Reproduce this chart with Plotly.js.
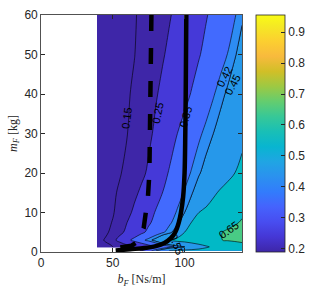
<!DOCTYPE html>
<html><head><meta charset="utf-8">
<script src="https://cdn.plot.ly/plotly-3.0.1.min.js"></script>
<style>html,body{margin:0;padding:0;background:#fff}#chart{width:309px;height:291px}</style>
</head><body><div id="chart"></div>
<script>
// damping b_F [Ns/m] (columns) and mass m_F [kg] (rows)
const bGrid = [39,45,50,55,60,65,70,75,80,85,90,95,100,105,110,115,120,125,130,135,140];
const mGrid = [0.3,1.3,3,5,7.5,10,15,20,30,40,50,60];
const zRow_m0_3 = [null,null,null,null,null,null,0.35,0.40,0.45,0.50,0.56,0.57,0.575,0.58,0.585,0.59,0.60,0.61,0.62,0.625,0.63];
const zRow_m1_3 = [0.08,0.115,0.15,0.183,0.217,0.25,0.283,0.317,0.35,0.379,0.408,0.431,0.45,0.479,0.509,0.538,0.565,0.58,0.595,0.61,0.625];
const zRow_m3   = [0.10,0.163,0.225,0.28,0.33,0.371,0.406,0.435,0.47,0.52,0.556,0.577,0.586,0.602,0.615,0.626,0.638,0.648,0.655,0.66,0.664];
const zRow_m5   = [0.10,0.13,0.18,0.23,0.27,0.303,0.337,0.365,0.39,0.415,0.44,0.488,0.55,0.571,0.59,0.609,0.628,0.646,0.66,0.67,0.677];
const zRow_m7_5 = [0.10,0.125,0.155,0.202,0.25,0.28,0.311,0.341,0.367,0.391,0.415,0.44,0.493,0.553,0.568,0.583,0.598,0.613,0.627,0.642,0.656];
const zRow_m10  = [0.10,0.12,0.142,0.185,0.228,0.265,0.295,0.326,0.355,0.378,0.401,0.425,0.45,0.50,0.55,0.567,0.583,0.60,0.613,0.627,0.64];
const zRow_m15  = [0.095,0.115,0.135,0.164,0.198,0.233,0.265,0.294,0.324,0.352,0.377,0.401,0.424,0.446,0.475,0.506,0.538,0.56,0.577,0.593,0.61];
const zRow_m20  = [0.09,0.11,0.125,0.144,0.174,0.203,0.232,0.263,0.297,0.33,0.359,0.381,0.403,0.424,0.446,0.467,0.488,0.508,0.529,0.55,0.57];
const zRow_m30  = [0.085,0.105,0.12,0.135,0.148,0.177,0.206,0.235,0.264,0.293,0.321,0.35,0.371,0.391,0.412,0.431,0.45,0.47,0.49,0.51,0.53];
const zRow_m40  = [0.08,0.10,0.115,0.13,0.142,0.161,0.189,0.217,0.244,0.267,0.289,0.311,0.333,0.354,0.375,0.395,0.416,0.437,0.458,0.479,0.50];
const zRow_m50  = [0.075,0.095,0.11,0.125,0.138,0.148,0.172,0.196,0.221,0.245,0.266,0.286,0.306,0.326,0.346,0.365,0.383,0.402,0.421,0.446,0.47];
const zRow_m60  = [0.07,0.09,0.105,0.12,0.133,0.145,0.161,0.183,0.204,0.226,0.247,0.267,0.287,0.307,0.326,0.346,0.364,0.3815,0.399,0.4165,0.443];
const zGrid = [zRow_m0_3,zRow_m1_3,zRow_m3,zRow_m5,zRow_m7_5,zRow_m10,zRow_m15,zRow_m20,zRow_m30,zRow_m40,zRow_m50,zRow_m60];

// thick solid curve
const solidB = [101.2,101,100.8,100.5,100,99,97.5,96,93.5,90.5,86,80,72,62,52];
const solidM = [60,50,40,30,20,14,10,7.5,5,3.5,2.3,1.5,1.0,0.7,0.4];
// thick dashed curve
const dashB = [76.9,76.6,76.2,75.5,74.5,73,71.5,69.5,67,63,57,50];
const dashM = [60,45,30,20,14,9,6,4,2.5,1.6,1.1,0.8];

// contour labels
const labelText = ['0.15','0.25','0.35','0.42','0.45','0.55','0.65'];
const labelB = [59.7,81.3,100.7,127.6,133.3,94.4,130.6];
const labelM = [33.9,35.2,34.2,44.3,42.3,2.0,5.6];
const labelAngle = [-83,-78,-74,-62,-62,70,-35];

const xTicks = [0,50,100];
const yTicks = [0,10,20,30,40,50,60];
const cbTicks = [0.2,0.3,0.4,0.5,0.6,0.7,0.8,0.9];

const parula = [
 [0/63,'rgb(62,38,168)'],[4/63,'rgb(69,55,213)'],[8/63,'rgb(72,77,240)'],[12/63,'rgb(69,99,253)'],
 [16/63,'rgb(50,124,252)'],[20/63,'rgb(43,145,239)'],[24/63,'rgb(32,165,227)'],[28/63,'rgb(8,181,208)'],
 [32/63,'rgb(25,191,182)'],[36/63,'rgb(55,200,151)'],[40/63,'rgb(100,205,111)'],[44/63,'rgb(157,201,67)'],
 [48/63,'rgb(209,191,39)'],[52/63,'rgb(248,186,61)'],[56/63,'rgb(252,207,48)'],[60/63,'rgb(245,233,36)'],
 [1,'rgb(249,251,21)']];
const bandScale = [
 [0/7,'#3E26A8'],[1/7,'#3E26A8'],[2/7,'#3E26A8'],[3/7,'#4539D8'],
 [4/7,'#426AFE'],[5/7,'#2698EA'],[6/7,'#01B9C6'],[1,'#49CB85']];

const axCol = '#262626';
const tickFont = {family:'Liberation Sans, Arial, sans-serif', size:12, color:axCol};

const traces = [
 {type:'heatmap', x:bGrid, y:mGrid, z:zGrid, opacity:0, hoverinfo:'skip',
  colorscale:parula, zmin:0.19, zmax:0.955, showscale:true,
  colorbar:{x:1.0697, xanchor:'left', xpad:0, ypad:0, y:0.5, yanchor:'middle', len:1, lenmode:'fraction',
   thickness:29, outlinewidth:0.8, outlinecolor:axCol, tickvals:cbTicks, ticktext:cbTicks.map(v=>v.toFixed(1)),
   ticks:'inside', ticklen:4, tickcolor:axCol, tickfont:tickFont}},
 {type:'contour', x:bGrid, y:mGrid, z:zGrid, autocontour:false, connectgaps:false,
  contours:{start:0.05, end:0.65, size:0.1, coloring:'fill', showlines:true, showlabels:false},
  colorscale:bandScale, showscale:false, line:{color:'#000', width:0.6, smoothing:1}, hoverinfo:'skip'},
 {type:'contour', x:bGrid, y:mGrid, z:zGrid, connectgaps:false,
  contours:{type:'constraint', operation:'][', value:[0.42,0.45], showlabels:false},
  fillcolor:'#2D8CF3', line:{color:'#000', width:0.6, smoothing:1}, showscale:false, hoverinfo:'skip'},
 {type:'scatter', mode:'lines', x:dashB, y:dashM, line:{color:'#000', width:4.5, dash:'16px,17px'}, hoverinfo:'skip'},
 {type:'scatter', mode:'lines', x:solidB, y:solidM, line:{color:'#000', width:4.5, shape:'spline'}, hoverinfo:'skip'}
];

const annotations = labelText.map((t,i)=>({x:labelB[i], y:labelM[i], xref:'x', yref:'y', text:t, showarrow:false,
  textangle:labelAngle[i], font:{family:'Liberation Sans, Arial, sans-serif', size:11, color:'#000'}}));

const layout = {
 width:309, height:291, margin:{l:41, r:67, t:15, b:39, autoexpand:false}, showlegend:false,
 paper_bgcolor:'#fff', plot_bgcolor:'#fff',
 xaxis:{range:[0,140], tickvals:xTicks, ticks:'inside', ticklen:4, tickcolor:axCol, showline:true, mirror:'ticks',
   linecolor:axCol, linewidth:0.8, showgrid:false, zeroline:false, tickfont:tickFont,
   title:{text:'<i>b</i><sub><i>F</i></sub> [Ns/m]', font:{family:'Liberation Serif, DejaVu Serif, serif', size:12, color:axCol}, standoff:5}},
 yaxis:{range:[0,60], tickvals:yTicks, ticks:'inside', ticklen:4, tickcolor:axCol, showline:true, mirror:'ticks',
   linecolor:axCol, linewidth:0.8, showgrid:false, zeroline:false, tickfont:tickFont,
   title:{text:'<i>m</i><sub><i>F</i></sub> [kg]', font:{family:'Liberation Serif, DejaVu Serif, serif', size:12, color:axCol}, standoff:4}},
 annotations:annotations
};
Plotly.newPlot('chart', traces, layout, {displayModeBar:false, staticPlot:true});
</script></body></html>
